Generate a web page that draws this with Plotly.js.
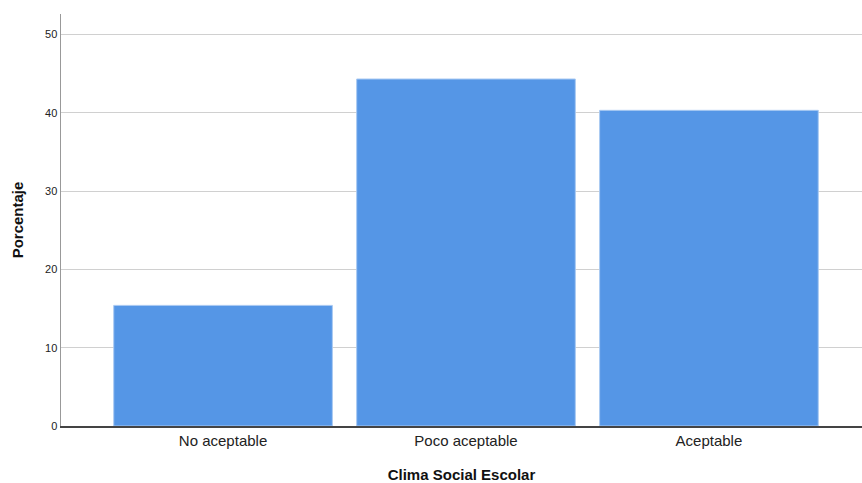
<!DOCTYPE html>
<html><head><meta charset="utf-8">
<script src="https://cdn.plot.ly/plotly-3.0.1.min.js"></script>
<style>html,body{margin:0;padding:0;background:#fff}#chart{width:862px;height:483px}</style>
</head><body><div id="chart"></div>
<script>
const categories = ["No aceptable", "Poco aceptable", "Aceptable"];
const percentages = [15.4, 44.3, 40.3];
const yTicks = [0, 10, 20, 30, 40, 50];

const trace = {
  type: "bar",
  x: categories,
  y: percentages,
  marker: {color: "#5596e6", line: {color: "#a9c9f2", width: 1}},
  width: 0.9,
  hoverinfo: "x+y"
};

const layout = {
  width: 862, height: 483,
  margin: {l: 61, r: 0, t: 14, b: 57},
  paper_bgcolor: "#fff", plot_bgcolor: "#fff",
  font: {family: "Liberation Sans, Arial, sans-serif", color: "#222"},
  showlegend: false,
  xaxis: {
    type: "category",
    range: [-0.667, 2.63],
    showgrid: false,
    showline: true, linecolor: "#444", linewidth: 1.5,
    ticks: "",
    tickfont: {size: 15, color: "#222"},
    title: {text: "<b>Clima Social Escolar</b>", font: {size: 15, color: "#111"}, standoff: 25}
  },
  yaxis: {
    range: [0, 52.6],
    tickvals: yTicks,
    ticktext: yTicks.map(String),
    showgrid: true, gridcolor: "#d0d0d0", gridwidth: 1,
    showline: true, linecolor: "#999", linewidth: 1.5,
    zeroline: false,
    ticks: "", ticklen: 0,
    tickfont: {size: 11, color: "#222"},
    title: {text: "<b>Porcentaje</b>", font: {size: 15, color: "#111"}, standoff: 18}
  }
};

Plotly.newPlot("chart", [trace], layout, {displayModeBar: false, staticPlot: true});
</script>
</body></html>
